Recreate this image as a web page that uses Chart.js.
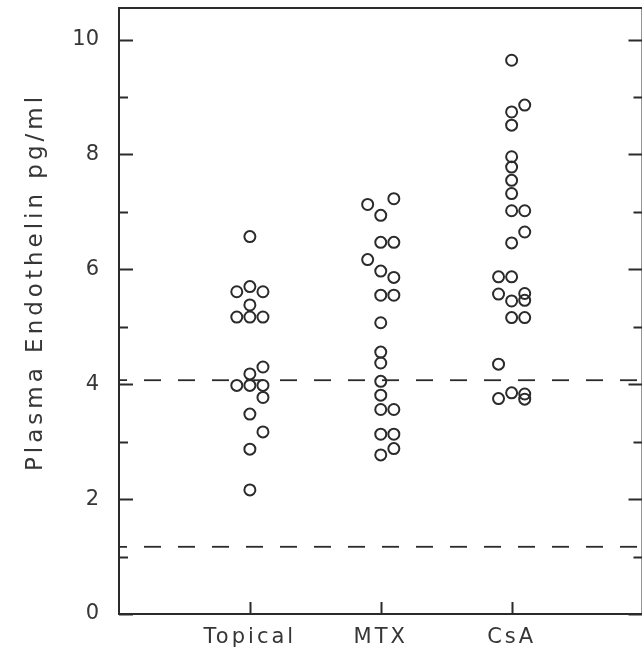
<!DOCTYPE html>
<html>
<head>
<meta charset="utf-8">
<script src="https://cdn.jsdelivr.net/npm/chart.js@4"></script>
<style>
  html, body { margin: 0; padding: 0; background: #fff; overflow: hidden; }
  #wrap { width: 650px; height: 661px; position: relative; }
</style>
</head>
<body>
<div id="wrap"><canvas id="chart"></canvas></div>
<script>
'use strict';

// groups on the x axis
const categories = ['Topical', 'MTX', 'CsA'];

// plasma endothelin, pg/ml; slot = -1 left, 0 centre, 1 right of the group
const topicalValues = [6.57, 5.70, 5.61, 5.61, 5.38, 5.17, 5.17, 5.17, 4.30, 4.18, 3.98, 3.98, 3.98, 3.77, 3.48, 3.17, 2.87, 2.16];
const topicalSlots  = [0, 0, -1, 1, 0, -1, 0, 1, 1, 0, -1, 0, 1, 1, 0, 1, 0, 0];

const mtxValues = [7.13, 7.23, 6.94, 6.47, 6.47, 6.17, 5.97, 5.86, 5.55, 5.55, 5.07, 4.56, 4.37, 4.05, 3.81, 3.56, 3.56, 3.13, 3.13, 2.77, 2.88];
const mtxSlots  = [-1, 1, 0, 0, 1, -1, 0, 1, 0, 1, 0, 0, 0, 0, 0, 0, 1, 0, 1, 0, 1];

const csaValues = [9.64, 8.86, 8.74, 8.51, 7.96, 7.78, 7.55, 7.32, 7.02, 7.02, 6.65, 6.46, 5.87, 5.87, 5.57, 5.45, 5.58, 5.46, 5.16, 5.16, 4.35, 3.75, 3.85, 3.83, 3.74];
const csaSlots  = [0, 1, 0, 0, 0, 0, 0, 0, 0, 1, 1, 0, -1, 0, -1, 0, 1, 1, 0, 1, -1, -1, 0, 1, 1];

// dashed reference levels
const refLevels = [4.07, 1.17];

const yTicks = [0, 2, 4, 6, 8, 10];
const yTitle = 'Plasma Endothelin pg/ml';

const INK = '#2b2b2b';
const TEXT = '#363636';
const SLOT_W = 0.1;

function toPoints(values, slots, groupIdx){
    let pts = [];
    for (let i = 0; i < values.length; i++){
        pts.push({ x: groupIdx + 1 + slots[i] * SLOT_W, y: values[i] });
    }
    return pts;
}

let datasets = [];
const groups = [[topicalValues, topicalSlots], [mtxValues, mtxSlots], [csaValues, csaSlots]];
groups.forEach((g, i) => {
    datasets.push({
        type: 'scatter',
        label: categories[i],
        data: toPoints(g[0], g[1], i),
        pointStyle: 'circle',
        pointRadius: 5.5,
        pointBorderWidth: 2,
        borderColor: INK,
        backgroundColor: 'rgba(0,0,0,0)'
    });
});
refLevels.forEach(v => {
    datasets.push({
        type: 'line',
        label: 'ref',
        data: [{ x: 0, y: v }, { x: 4, y: v }],
        borderColor: INK,
        borderWidth: 1.8,
        borderDash: [17, 17],
        borderDashOffset: 9,
        pointRadius: 0,
        fill: false
    });
});

// frame, inward ticks and the rotated y title
const framePlugin = {
    id: 'frame',
    beforeDraw(chart){
        chart.ctx.letterSpacing = '0px';
    },
    afterDatasetsDraw(chart){
        // x labels (z = 1) come after this, spaced out like the original
        chart.ctx.letterSpacing = '3px';
    },
    afterDraw(chart){
        const ctx = chart.ctx;
        const a = chart.chartArea;
        const xs = chart.scales.x;
        const ys = chart.scales.y;
        ctx.save();
        ctx.letterSpacing = '0px';
        ctx.strokeStyle = INK;
        ctx.lineWidth = 2;
        ctx.strokeRect(a.left, a.top, a.right - a.left, a.bottom - a.top);
        ctx.beginPath();
        for (let v = 0; v <= 10; v++){
            const py = Math.round(ys.getPixelForValue(v)) + 0.5;
            const len = v % 2 === 0 ? 14 : 9;
            ctx.moveTo(a.left, py); ctx.lineTo(a.left + len, py);
            ctx.moveTo(a.right, py); ctx.lineTo(a.right - len, py);
        }
        for (let i = 1; i <= categories.length; i++){
            const px = Math.round(xs.getPixelForValue(i)) + 0.5;
            ctx.moveTo(px, a.bottom); ctx.lineTo(px, a.bottom - 12);
        }
        ctx.stroke();

        ctx.translate(36, 282);
        ctx.rotate(-Math.PI / 2);
        ctx.letterSpacing = '4px';
        ctx.font = '23px "DejaVu Sans"';
        ctx.fillStyle = TEXT;
        ctx.textAlign = 'center';
        ctx.textBaseline = 'middle';
        ctx.fillText(yTitle, 0, 0);
        ctx.restore();
        ctx.letterSpacing = '0px';
    }
};

const ctx = document.getElementById('chart').getContext('2d');
new Chart(ctx, {
    data: { datasets: datasets },
    options: {
        responsive: true,
        maintainAspectRatio: false,
        animation: false,
        layout: { padding: { top: 8, right: 5, left: 0, bottom: 0 } },
        plugins: { legend: { display: false }, tooltip: { enabled: false } },
        scales: {
            x: {
                type: 'linear',
                min: 0,
                max: 4,
                grid: { display: false, drawTicks: false },
                border: { display: false },
                afterFit(scale){
                    scale.height = 47;
                    scale.paddingLeft = 0;
                    scale.paddingRight = 0;
                },
                afterBuildTicks(scale){ scale.ticks = categories.map((c, i) => ({ value: i + 1 })); },
                ticks: {
                    z: 1,
                    padding: 11,
                    color: TEXT,
                    font: { family: 'DejaVu Sans', size: 21 },
                    callback: v => categories[v - 1]
                }
            },
            y: {
                type: 'linear',
                min: 0,
                max: 10.55,
                grid: { display: false, drawTicks: false },
                border: { display: false },
                afterFit(scale){
                    scale.width = 119;
                    scale.paddingTop = 0;
                    scale.paddingBottom = 0;
                },
                afterBuildTicks(scale){ scale.ticks = yTicks.map(v => ({ value: v })); },
                ticks: {
                    padding: 20,
                    color: TEXT,
                    font: { family: 'DejaVu Sans', size: 21 }
                }
            }
        }
    },
    plugins: [framePlugin]
});
</script>
</body>
</html>
